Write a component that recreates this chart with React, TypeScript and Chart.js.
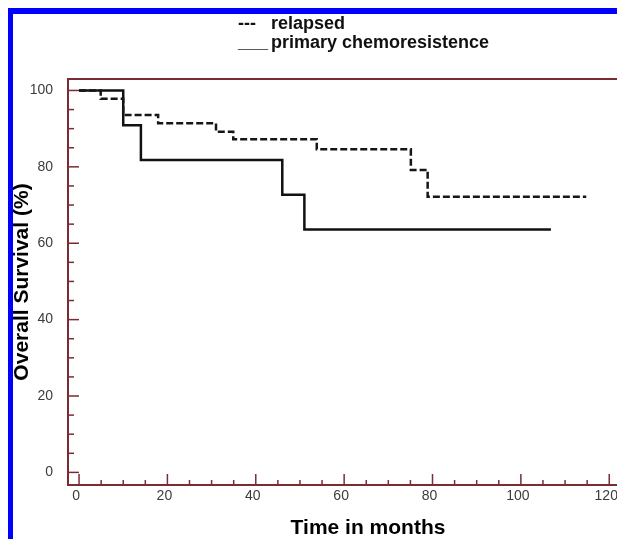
import React, { useEffect, useRef } from "react";
import { Chart, registerables } from "chart.js";

Chart.register(...registerables);

// Kaplan-Meier style step data (time in months, survival %)
const relapsedTimes = [0, 4.9, 10.0, 17.9, 31.0, 34.9, 53.8, 75.1, 78.9, 114.8];
const relapsedSurvival = [100, 97.8, 93.6, 91.4, 89.2, 87.2, 84.6, 79.2, 72.2, 72.2];
const primaryTimes = [0, 10.0, 14.0, 46.0, 51.0, 106.8];
const primarySurvival = [100, 90.9, 81.8, 72.7, 63.6, 63.6];

const xTickValues = [0, 20, 40, 60, 80, 100, 120];
const yTickValues = [0, 20, 40, 60, 80, 100];
const minorStep = 5;

const legendItems = [
  { mark: "---", label: "relapsed" },
  { mark: "___", label: "primary chemoresistence" },
];

const FRAME = "#7d2b33";
const SANS = '"Liberation Sans", Arial, sans-serif';

const framePlugin = {
  id: "frameAndTicks",
  afterDatasetsDraw(chart: any) {
    const { ctx, chartArea } = chart;
    const xs = chart.scales.x;
    const ys = chart.scales.y;
    const { left, right, top, bottom } = chartArea;
    ctx.save();
    ctx.strokeStyle = FRAME;
    ctx.lineWidth = 1.5;
    // x ticks (inward)
    for (let v = 0; v <= 120; v += minorStep) {
      const px = xs.getPixelForValue(v);
      const len = v % 20 === 0 ? 11 : 5;
      ctx.beginPath();
      ctx.moveTo(px, bottom);
      ctx.lineTo(px, bottom - len);
      ctx.stroke();
    }
    // y ticks (inward)
    for (let v = 0; v <= 100; v += minorStep) {
      const py = ys.getPixelForValue(v);
      const len = v % 20 === 0 ? 11 : 6;
      ctx.beginPath();
      ctx.moveTo(left, py);
      ctx.lineTo(left + len, py);
      ctx.stroke();
    }
    ctx.lineWidth = 2;
    ctx.strokeRect(left, top, right - left, bottom - top);
    ctx.restore();
  },
};

const legendPlugin = {
  id: "textLegend",
  afterDraw(chart: any) {
    const { ctx } = chart;
    ctx.save();
    ctx.fillStyle = "#111";
    ctx.font = `bold 18px ${SANS}`;
    ctx.textBaseline = "alphabetic";
    ctx.textAlign = "left";
    const baselines = [14.5, 34];
    legendItems.forEach((it, i) => {
      ctx.fillText(it.mark, 225, baselines[i]);
      ctx.fillText(it.label, 258, baselines[i]);
    });
    ctx.restore();
  },
};

export default function App() {
  const ref = useRef<HTMLCanvasElement | null>(null);

  useEffect(() => {
    if (!ref.current) return;
    const chart = new Chart(ref.current, {
      type: "line",
      data: {
        datasets: [
          {
            label: "relapsed",
            data: relapsedTimes.map((t, i) => ({ x: t, y: relapsedSurvival[i] })),
            borderColor: "#161616",
            borderWidth: 2.5,
            borderDash: [7, 3],
            stepped: "before",
            pointRadius: 0,
            fill: false,
          },
          {
            label: "primary chemoresistence",
            data: primaryTimes.map((t, i) => ({ x: t, y: primarySurvival[i] })),
            borderColor: "#111111",
            borderWidth: 2.5,
            stepped: "before",
            pointRadius: 0,
            fill: false,
          },
        ],
      },
      options: {
        responsive: false,
        animation: false,
        layout: { padding: { top: 65, left: 0, right: 25, bottom: 0 } },
        plugins: {
          legend: { display: false },
          tooltip: { enabled: false },
          title: { display: false },
        },
        scales: {
          x: {
            type: "linear",
            position: "bottom",
            min: -2.5,
            max: 133.3,
            afterBuildTicks: (axis: any) => {
              axis.ticks = xTickValues.map((v) => ({ value: v }));
            },
            afterFit: (s: any) => {
              s.height = 55;
            },
            grid: { display: false, drawTicks: false },
            border: { display: false },
            ticks: {
              padding: 4,
              labelOffset: -3,
              autoSkip: false,
              maxRotation: 0,
              color: "#3c3c3c",
              font: { family: SANS, size: 14, lineHeight: 1 },
            },
            title: {
              display: true,
              text: "Time in months",
              color: "#000",
              padding: 0,
              font: { family: SANS, size: 21, weight: "bold", lineHeight: "23px" },
            },
          },
          y: {
            type: "linear",
            min: -3.3,
            max: 103,
            afterBuildTicks: (axis: any) => {
              axis.ticks = yTickValues.map((v) => ({ value: v }));
            },
            afterFit: (s: any) => {
              s.width = 55;
            },
            grid: { display: false, drawTicks: false },
            border: { display: false },
            ticks: {
              padding: 15,
              color: "#3c3c3c",
              font: { family: SANS, size: 14, lineHeight: 1 },
            },
            title: {
              display: true,
              text: "Overall Survival (%)",
              color: "#000",
              padding: 0,
              font: { family: SANS, size: 21, weight: "bold", lineHeight: "19px" },
            },
          },
        },
      } as any,
      plugins: [framePlugin, legendPlugin],
    });
    return () => chart.destroy();
  }, []);

  return (
    <div
      style={{
        position: "fixed",
        left: 8,
        top: 8,
        width: 609,
        height: 531,
        boxSizing: "border-box",
        borderTop: "6px solid #0000ff",
        borderLeft: "5px solid #0000ff",
        overflow: "hidden",
        background: "#fff",
      }}
    >
      <canvas ref={ref} width={680} height={526} style={{ display: "block" }} />
    </div>
  );
}
